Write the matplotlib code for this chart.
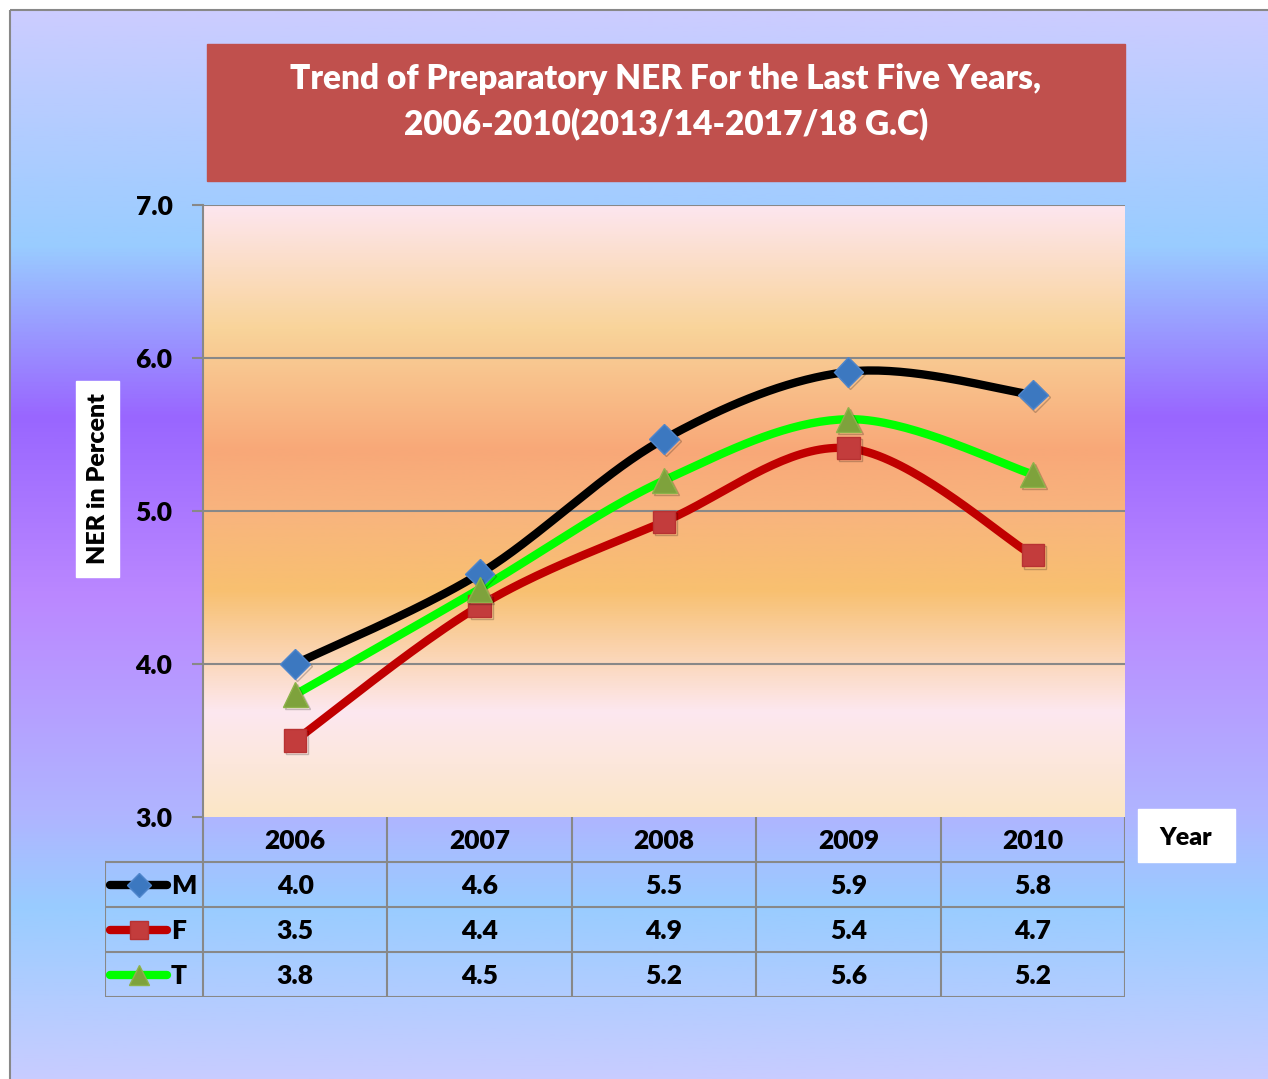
import numpy as np
import matplotlib.pyplot as plt
from matplotlib.colors import LinearSegmentedColormap
from matplotlib.patches import Rectangle
import matplotlib.patheffects as pe

plt.rcParams['font.family'] = ['Lato', 'DejaVu Sans']
plt.rcParams['font.weight'] = 'heavy'
FW = 'heavy'

years = ['2006', '2007', '2008', '2009', '2010']
male = [4.0, 4.59, 5.47, 5.91, 5.76]
female = [3.5, 4.38, 4.93, 5.41, 4.71]
total = [3.8, 4.49, 5.2, 5.6, 5.24]
series_names = ['M', 'F', 'T']

W, H = 1268, 1079
fig = plt.figure(figsize=(W / 100, H / 100), dpi=100)
fig.patch.set_facecolor('white')


def smooth(xs, ys, n=40):
    # bezier curve through the points, control points like a Catmull-Rom spline
    pts = np.column_stack([xs, ys]).astype(float)
    out = []
    for i in range(len(pts) - 1):
        p0 = pts[max(i - 1, 0)]
        p1 = pts[i]
        p2 = pts[i + 1]
        p3 = pts[min(i + 2, len(pts) - 1)]
        c1 = p1 + (p2 - p0) / 6
        c2 = p2 - (p3 - p1) / 6
        t = np.linspace(0, 1, n)[:, None]
        seg = ((1 - t) ** 3) * p1 + 3 * ((1 - t) ** 2) * t * c1 + 3 * (1 - t) * t ** 2 * c2 + t ** 3 * p2
        out.append(seg if i == 0 else seg[1:])
    out = np.vstack(out)
    return out[:, 0], out[:, 1]


# figure background gradient
bg = fig.add_axes([0, 0, 1, 1], zorder=-5)
bg.set_xlim(0, W)
bg.set_ylim(H, 0)
bg.axis('off')
bg_cmap = LinearSegmentedColormap.from_list('bg', [
    (0.0, '#ccccff'), (0.22, '#99ccff'), (0.38, '#9966ff'),
    (0.55, '#bb88ff'), (0.75, '#b0b4ff'), (0.84, '#99ccff'), (1.0, '#c8ccff')])
grad = np.linspace(0, 1, 512)[:, None]
bg.imshow(grad, cmap=bg_cmap, aspect='auto', extent=[10, W, H, 10], origin='upper')
bg.add_patch(Rectangle((10, 10), W, H, fill=False, edgecolor='#888888', lw=1.5))

# title box
bg.add_patch(Rectangle((207, 44), 1125 - 207, 181 - 44, color='#c0504d', zorder=3))
bg.text(666, 79, 'Trend of Preparatory NER For the Last Five Years,', color='white',
        fontsize=24, fontweight=FW, ha='center', va='center', zorder=4)
bg.text(666, 124, '2006-2010(2013/14-2017/18 G.C)', color='white',
        fontsize=24, fontweight=FW, ha='center', va='center', zorder=4)

# y label box and Year box
bg.add_patch(Rectangle((76, 381), 43, 196, color='white', zorder=3))
bg.text(98, 479, 'NER in Percent', rotation=90, fontsize=18, fontweight=FW,
        ha='center', va='center', zorder=4)
bg.add_patch(Rectangle((1138, 809), 97, 53, color='white', zorder=3))
bg.text(1186, 838, 'Year', fontsize=18, fontweight=FW, ha='center', va='center', zorder=4)

# main plot
ax = fig.add_axes([203 / W, (H - 817) / H, (1125 - 203) / W, (817 - 205) / H])
ax.set_xlim(-0.5, 4.5)
ax.set_ylim(3, 7)
pa_cmap = LinearSegmentedColormap.from_list('pa', [
    (0.0, '#fde6ef'), (0.2, '#f9d49a'), (0.4, '#f8a878'), (0.5, '#f8b47e'),
    (0.63, '#f8c070'), (0.83, '#fde8f0'), (1.0, '#fbe6c6')])
ax.imshow(grad, cmap=pa_cmap, aspect='auto', extent=[-0.5, 4.5, 3, 7], origin='upper', zorder=0)
ax.set_yticks([3, 4, 5, 6, 7])
ax.set_yticklabels(['3.0', '4.0', '5.0', '6.0', '7.0'], fontsize=19, fontweight=FW)
ax.set_xticks([])
ax.tick_params(axis='y', length=8, color='#888888', width=1.5, pad=14)
for y in [4, 5, 6, 7]:
    ax.axhline(y, color='#888888', lw=1.5, zorder=1)
for s in ['top', 'right', 'bottom']:
    ax.spines[s].set_visible(False)
ax.spines['left'].set_color('#888888')
ax.spines['left'].set_linewidth(1.5)

styles = [
    (male, 'black', 'D', '#3c78c0', '#4f86cc', 15),
    (female, '#c00000', 's', '#c33c3c', '#b83232', 16),
    (total, '#00ff00', '^', '#7ea23c', '#8db24a', 18),
]
xs = np.arange(len(years))
shadow = [pe.SimpleLineShadow(offset=(1.5, -1.5), alpha=0.22), pe.Normal()]
for vals, lc, mk, mfc, mec, ms in styles:
    sx, sy = smooth(xs, vals)
    ax.plot(sx, sy, color=lc, lw=6, solid_capstyle='round', zorder=3)
for vals, lc, mk, mfc, mec, ms in styles:
    ax.plot(xs, vals, linestyle='none', marker=mk, markersize=ms, markerfacecolor=mfc,
            markeredgecolor=mec, markeredgewidth=1, zorder=4, path_effects=shadow)

# data table
tb = fig.add_axes([105 / W, (H - 997) / H, (1125 - 105) / W, (997 - 817) / H])
left = -0.5 - 98 / 184.4
tb.set_xlim(left, 4.5)
tb.set_ylim(4, 0)
tb.axis('off')
gc = '#888888'
for r in range(1, 5):
    tb.plot([left, 4.5], [r, r], color=gc, lw=1.5)
for c in range(6):
    tb.plot([c - 0.5, c - 0.5], [0, 4], color=gc, lw=1.5)
tb.plot([left, left], [1, 4], color=gc, lw=1.5)
for i, yr in enumerate(years):
    tb.text(i, 0.54, yr, ha='center', va='center', fontsize=19, fontweight=FW)
for r, (vals, (v, lc, mk, mfc, mec, ms), name) in enumerate(zip([male, female, total], styles, series_names)):
    row = r + 1.53
    for i, v in enumerate(vals):
        tb.text(i, row, f'{v:.1f}', ha='center', va='center', fontsize=19, fontweight=FW)
    x0, x1 = left + 5 / 184.4, left + 62 / 184.4
    tb.plot([x0, x1], [row - 0.03, row - 0.03], color=lc, lw=6, solid_capstyle='round')
    tb.plot([(x0 + x1) / 2], [row - 0.03], marker=mk, markersize=ms * 0.8, markerfacecolor=mfc,
            markeredgecolor=mec, linestyle='none')
    tb.text(left + 66 / 184.4, row, name, ha='left', va='center', fontsize=19, fontweight=FW)

fig.savefig('out.png', dpi=100)
